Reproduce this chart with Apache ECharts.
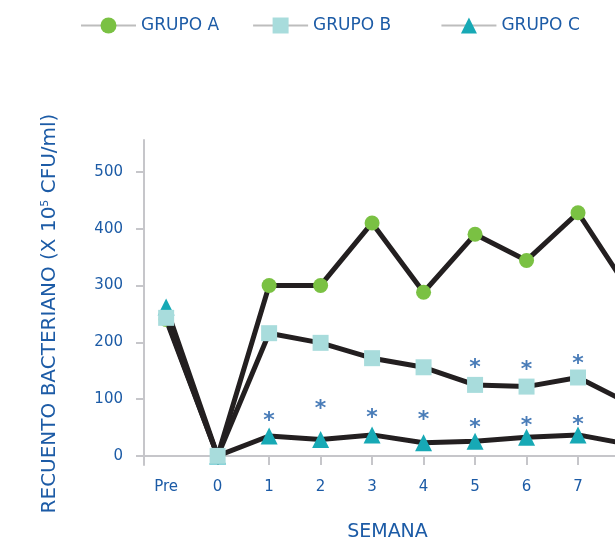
<!DOCTYPE html>
<html>
<head>
<meta charset="utf-8">
<script src="https://cdn.jsdelivr.net/npm/echarts@6/dist/echarts.min.js"></script>
<style>
html, body { margin: 0; padding: 0; background: #fff; }
#chart { width: 615px; height: 543px; }
</style>
</head>
<body>
<div id="chart"></div>
<script>
// semanas (Pre = -1 en el eje)
var semanas = ['Pre', '0', '1', '2', '3', '4', '5', '6', '7', '8'];
var grupoA = [240, 0, 300, 300, 410, 288, 390, 344, 428, 290];
var grupoB = [243, 0, 216, 199, 172, 156, 125, 122, 138, 92];
var grupoC = [262, 0, 35, 29, 37, 23, 26, 33, 37, 20];
// asteriscos de significancia (altura aproximada en la escala)
var astB = [null, null, null, null, null, null, 165, 162, 172, null];
var astC = [null, null, 72, 92, 76, 74, 60, 62, 65, null];
var yTicks = [0, 100, 200, 300, 400, 500];

var azul = '#1c5ba6';
var fuente = 'DejaVu Sans';

function pares(arr) {
    var out = [];
    for (var i = 0; i < arr.length; i++) {
        if (arr[i] !== null) out.push([i - 1, arr[i]]);
    }
    return out;
}

var myChart = echarts.init(document.getElementById('chart'));

var lineaBase = {
    type: 'line',
    lineStyle: { color: '#231f20', width: 5 },
    emphasis: { disabled: true }
};

function serieLinea(nombre, datos, simbolo, tam, color, z) {
    return Object.assign({}, lineaBase, {
        name: nombre,
        data: pares(datos),
        symbol: simbolo,
        symbolSize: tam,
        itemStyle: { color: color },
        z: z
    });
}

function serieAst(datos) {
    return {
        type: 'scatter',
        data: pares(datos),
        symbolSize: 0,
        itemStyle: { color: 'rgba(0,0,0,0)' },
        silent: true,
        z: 5,
        label: {
            show: true,
            position: 'inside',
            formatter: '*',
            color: azul,
            fontSize: 22,
            fontWeight: 'bold',
            fontFamily: fuente,
            offset: [0, 6]
        }
    };
}

var option = {
    animation: false,
    textStyle: { fontFamily: fuente },
    legend: {
        top: 12,
        left: 75,
        itemWidth: 55,
        itemHeight: 20,
        itemGap: 33,
        lineStyle: { color: '#bdbdbd', width: 2 },
        textStyle: { color: azul, fontSize: 17, fontFamily: fuente },
        formatter: function (n) { return n === 'GRUPO B' ? n + '   ' : n; },
        data: ['GRUPO A', 'GRUPO B', 'GRUPO C']
    },
    grid: { left: 144, right: -66, top: 140, bottom: 78, outerBoundsMode: 'none', containLabel: false },
    xAxis: {
        type: 'value',
        min: -1.43,
        max: 9,
        splitLine: { show: false },
        axisLine: { onZero: true, lineStyle: { color: '#c6c6ca', width: 2 } },
        axisTick: { show: true, length: 9, customValues: [0, 1, 2, 3, 4, 5, 6, 7, 8], lineStyle: { color: '#c6c6ca', width: 2 } },
        axisLabel: {
            customValues: [-1, 0, 1, 2, 3, 4, 5, 6, 7, 8],
            formatter: function (v) { return semanas[Math.round(v) + 1]; },
            color: azul, fontSize: 15, margin: 15, fontFamily: fuente
        },
        name: 'SEMANA',
        nameLocation: 'middle',
        nameGap: 58,
        nameTextStyle: { color: azul, fontSize: 19, fontFamily: fuente, padding: [0, 50, 0, 0] }
    },
    yAxis: {
        type: 'value',
        min: -16,
        max: 556,
        splitLine: { show: false },
        axisLine: { show: true, onZero: false, lineStyle: { color: '#c6c6ca', width: 2 } },
        axisTick: { show: true, length: 8, customValues: yTicks, lineStyle: { color: '#c6c6ca', width: 2 } },
        axisLabel: { customValues: yTicks, color: azul, fontSize: 15, margin: 21, fontFamily: fuente },
        name: 'RECUENTO BACTERIANO (X 10{sup|5} CFU/ml)',
        nameLocation: 'middle',
        nameGap: 84,
        nameTextStyle: {
            color: azul, fontSize: 20, fontFamily: fuente,
            padding: [0, 22, 0, 0],
            rich: { sup: { fontSize: 11, verticalAlign: 'top', color: azul, padding: [0, 0, 8, 0] } }
        }
    },
    series: [
        serieLinea('GRUPO A', grupoA, 'circle', 15, '#7ac143', 2),
        serieLinea('GRUPO B', grupoB, 'rect', 16, '#a8dcdc', 4),
        serieLinea('GRUPO C', grupoC, 'triangle', 17, '#17a9b5', 3),
        serieAst(astB),
        serieAst(astC)
    ]
};

myChart.setOption(option);
</script>
</body>
</html>
